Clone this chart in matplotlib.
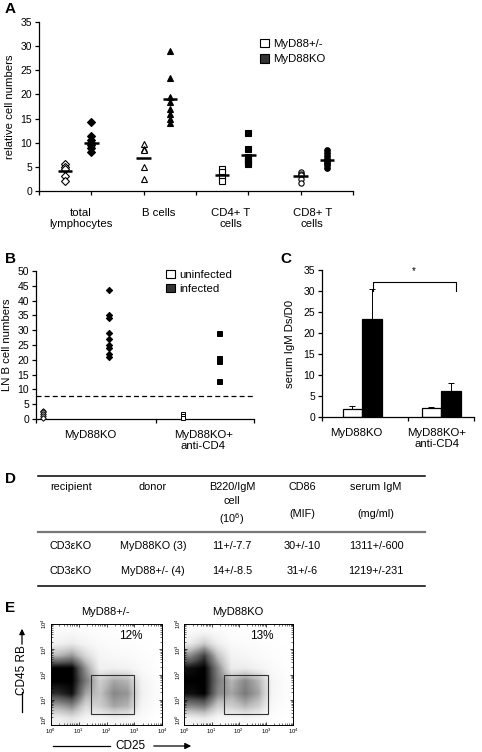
import numpy as np
import matplotlib
matplotlib.use('Agg')
import matplotlib.pyplot as plt
from matplotlib.patches import Rectangle, Patch

plt.rcParams['font.family'] = ['Liberation Sans', 'DejaVu Sans']
plt.rcParams['mathtext.fontset'] = 'custom'
plt.rcParams['mathtext.rm'] = 'Liberation Sans'

# ---------------- data ----------------
# Panel A
a_cat_labels = ['total\nlymphocytes', 'B cells', 'CD4+ T\ncells', 'CD8+ T\ncells']
a_total_het = [5.5, 5.0, 4.6, 3.2, 2.0]
a_total_ko = [14.3, 11.3, 10.6, 10.0, 9.5, 9.0, 8.0]
a_b_het = [9.7, 8.8, 8.4, 5.0, 2.5]
a_b_ko = [29.0, 23.5, 19.5, 18.5, 17.0, 16.0, 15.0, 14.0]
a_cd4_het = [4.6, 4.0, 3.0, 2.0]
a_cd4_ko = [12.1, 8.6, 7.0, 6.5, 6.0, 5.6]
a_cd8_het = [4.0, 3.6, 3.3, 2.5, 1.6]
a_cd8_ko = [8.4, 7.8, 7.2, 6.6, 6.2, 5.8, 5.3, 4.8]
a_means_het = [4.2, 6.9, 3.4, 3.2]
a_means_ko = [9.9, 19.0, 7.5, 6.5]
a_legend = ['MyD88+/-', 'MyD88KO']

# Panel B
b_groups = ['MyD88KO', 'MyD88KO+\nanti-CD4']
b_ko_uninf = [2.8, 2.2, 1.6, 1.0, 0.5]
b_ko_inf = [43.5, 35.0, 34.0, 29.0, 27.0, 25.0, 24.0, 22.0, 21.0]
b_cd4_uninf = [1.6, 1.0, 0.5]
b_cd4_inf = [29.0, 20.5, 19.5, 13.0]
b_threshold = 7.9
b_legend = ['uninfected', 'infected']

# Panel C
c_groups = ['MyD88KO', 'MyD88KO+\nanti-CD4']
c_uninf = [2.0, 2.2]
c_inf = [23.3, 6.1]
c_uninf_err = [0.6, 0.3]
c_inf_err = [7.1, 2.0]

# Panel D
d_header = ['recipient', 'donor', 'B220/IgM\ncell\n(10$^{6}$)', 'CD86\n\n(MIF)', 'serum IgM\n\n(mg/ml)']
d_row1 = ['CD3\u03b5KO', 'MyD88KO (3)', '11+/-7.7', '30+/-10', '1311+/-600']
d_row2 = ['CD3\u03b5KO', 'MyD88+/- (4)', '14+/-8.5', '31+/-6', '1219+/-231']

# Panel E  (estimated event density per half-decade cell, rows from low to high CD45RB)
e_titles = ['MyD88+/-', 'MyD88KO']
e_percent = ['12%', '13%']
e_density_het = [
    [0.12, 0.18, 0.08, 0.06, 0.10, 0.08, 0.03, 0.00],
    [0.45, 0.55, 0.25, 0.30, 0.45, 0.40, 0.08, 0.02],
    [0.85, 0.95, 0.45, 0.35, 0.55, 0.50, 0.12, 0.03],
    [1.00, 1.00, 0.60, 0.30, 0.45, 0.40, 0.10, 0.02],
    [1.00, 1.00, 0.50, 0.12, 0.12, 0.10, 0.04, 0.01],
    [0.40, 0.50, 0.25, 0.08, 0.05, 0.04, 0.02, 0.01],
    [0.10, 0.15, 0.08, 0.04, 0.02, 0.02, 0.01, 0.00],
    [0.03, 0.04, 0.02, 0.01, 0.01, 0.00, 0.00, 0.00],
]
e_density_ko = [
    [0.10, 0.15, 0.06, 0.05, 0.06, 0.04, 0.01, 0.00],
    [0.55, 0.60, 0.30, 0.30, 0.40, 0.30, 0.05, 0.01],
    [0.95, 1.00, 0.55, 0.45, 0.60, 0.45, 0.08, 0.02],
    [1.00, 1.00, 0.60, 0.40, 0.55, 0.40, 0.08, 0.02],
    [0.95, 1.00, 0.55, 0.15, 0.15, 0.10, 0.04, 0.01],
    [0.55, 0.80, 0.35, 0.10, 0.07, 0.04, 0.02, 0.01],
    [0.15, 0.30, 0.12, 0.04, 0.03, 0.02, 0.01, 0.00],
    [0.03, 0.05, 0.03, 0.01, 0.01, 0.01, 0.00, 0.00],
]
e_gate_het = [1.44, 3.00, 0.45, 1.97]   # log10 CD25 lo/hi, log10 CD45RB lo/hi
e_gate_ko = [1.47, 3.06, 0.45, 1.97]

# ---------------- figure ----------------
W, H = 482, 752
fig = plt.figure(figsize=(W / 100, H / 100), dpi=100)


def add_ax(l, t, r, b, **kw):
    return fig.add_axes([l / W, 1 - b / H, (r - l) / W, (b - t) / H], **kw)


# overlay for letters / arrows / table (pixel coords)
ov = add_ax(0, 0, W, H)
ov.set_xlim(0, W)
ov.set_ylim(H, 0)
ov.axis('off')
for letter, (x, y) in zip('ABCDE', [(5, 9), (5, 259), (280, 259), (5, 479), (5, 608)]):
    ov.text(x, y, letter, fontsize=11, fontweight='bold', va='center', ha='left')

TICK = 7.5
LAB = 8.2


def style_axes(ax):
    for s in ['top', 'right']:
        ax.spines[s].set_visible(False)
    for s in ['left', 'bottom']:
        ax.spines[s].set_linewidth(0.9)
    ax.tick_params(axis='both', which='major', direction='out', length=3, width=0.9,
                   labelsize=TICK, pad=2)


# ---------------- Panel A ----------------
axA = add_ax(39, 22, 353, 191)
style_axes(axA)
axA.set_xlim(0, 6)
axA.set_ylim(0, 35)
axA.set_yticks(np.arange(0, 36, 5))
axA.set_xticks(np.arange(0, 7, 1))
axA.set_xticklabels([])
axA.set_xticks([0.80, 2.29, 3.67, 5.22], minor=True)
axA.set_xticklabels(a_cat_labels, minor=True, fontsize=LAB, linespacing=1.15)
axA.tick_params(axis='x', which='minor', length=0, pad=12)
axA.set_ylabel('relative cell numbers', fontsize=LAB, labelpad=4)

a_series = [
    (0.5, a_total_het, 'D', 'white', 3.6), (1.0, a_total_ko, 'D', 'black', 3.8),
    (2.0, a_b_het, '^', 'white', 4.2), (2.5, a_b_ko, '^', 'black', 4.4),
    (3.5, a_cd4_het, 's', 'white', 3.8), (4.0, a_cd4_ko, 's', 'black', 4.0),
    (5.0, a_cd8_het, 'o', 'white', 3.8), (5.5, a_cd8_ko, 'o', 'black', 4.0),
]
for x, vals, m, fc, ms in a_series:
    axA.plot(np.full(len(vals), x), vals, linestyle='none', marker=m, ms=ms,
             mfc=fc, mec='black', mew=0.8, zorder=3, clip_on=False)
a_mean_x = [0.5, 1.0, 2.0, 2.5, 3.5, 4.0, 5.0, 5.5]
a_means = [a_means_het[0], a_means_ko[0], a_means_het[1], a_means_ko[1],
           a_means_het[2], a_means_ko[2], a_means_het[3], a_means_ko[3]]
axA.hlines(a_means, np.array(a_mean_x) - 0.14, np.array(a_mean_x) + 0.14,
           colors='black', linewidth=1.8, zorder=4)
axA.legend(handles=[Patch(facecolor='white', edgecolor='black', linewidth=0.8),
                    Patch(facecolor='#333333', edgecolor='black', linewidth=0.8)],
           labels=a_legend, loc='upper left', bbox_to_anchor=(260 / W, 1 - 39 / H),
           bbox_transform=fig.transFigure, frameon=False, fontsize=LAB,
           handlelength=0.75, handleheight=0.75, handletextpad=0.4,
           labelspacing=0.45, borderpad=0, borderaxespad=0)

# ---------------- Panel B ----------------
axB = add_ax(36, 271, 254, 419)
style_axes(axB)
axB.set_xlim(0, 6)
axB.set_ylim(0, 50)
axB.set_yticks(np.arange(0, 51, 5))
axB.set_xticks([0, 3.3, 6])
axB.set_xticklabels([])
axB.set_xticks([1.49, 4.6], minor=True)
axB.set_xticklabels(b_groups, minor=True, fontsize=LAB, linespacing=1.15)
axB.tick_params(axis='x', which='minor', length=0, pad=8)
axB.set_ylabel('LN B cell numbers', fontsize=LAB, labelpad=4)
axB.axhline(b_threshold, color='black', linestyle=(0, (4, 2.5)), linewidth=0.9)
b_series = [
    (0.2, b_ko_uninf, 'D', 'white', 2.8), (2.0, b_ko_inf, 'D', 'black', 3.2),
    (4.05, b_cd4_uninf, 's', 'white', 3.0), (5.05, b_cd4_inf, 's', 'black', 3.6),
]
for x, vals, m, fc, ms in b_series:
    axB.plot(np.full(len(vals), x), vals, linestyle='none', marker=m, ms=ms,
             mfc=fc, mec='black', mew=0.7, zorder=3, clip_on=False)
axB.legend(handles=[Patch(facecolor='white', edgecolor='black', linewidth=0.8),
                    Patch(facecolor='#333333', edgecolor='black', linewidth=0.8)],
           labels=b_legend, loc='upper left', bbox_to_anchor=(166 / W, 1 - 270 / H),
           bbox_transform=fig.transFigure, frameon=False, fontsize=LAB,
           handlelength=0.75, handleheight=0.75, handletextpad=0.4,
           labelspacing=0.35, borderpad=0, borderaxespad=0)

# ---------------- Panel C ----------------
axC = add_ax(322, 270, 474, 417)
style_axes(axC)
axC.set_xlim(0, 2)
axC.set_ylim(0, 35)
axC.set_yticks(np.arange(0, 36, 5))
axC.set_xticks([0, 1.13, 2])
axC.set_xticklabels([])
axC.set_xticks([0.45, 1.51], minor=True)
axC.set_xticklabels(c_groups, minor=True, fontsize=LAB, linespacing=1.15)
axC.tick_params(axis='x', which='minor', length=0, pad=8)
axC.set_ylabel('serum IgM Ds/D0', fontsize=LAB, labelpad=6)
c_centers = np.array([0.53, 1.57])
bw = 0.26
axC.bar(c_centers - bw / 2, c_uninf, bw, color='white', edgecolor='black', linewidth=0.9,
        yerr=[np.zeros(2), c_uninf_err], error_kw=dict(capsize=2, elinewidth=0.7, capthick=0.7))
axC.bar(c_centers + bw / 2, c_inf, bw, color='black', edgecolor='black', linewidth=0.9,
        yerr=[np.zeros(2), c_inf_err], error_kw=dict(capsize=2, elinewidth=0.7, capthick=0.7))
# significance bracket
yb = 32.2
axC.plot([0.67, 0.67, 1.76, 1.76], [yb - 2.3, yb, yb, yb - 2.3], color='black',
         linewidth=0.8, clip_on=False)
axC.text(1.21, yb + 1.3, '*', ha='center', va='bottom', fontsize=7)

# ---------------- Panel D (table) ----------------
col_x = [71, 153, 232, 302, 376]
ov.plot([38, 425], [475.5, 475.5], color='black', linewidth=1.1)
ov.plot([38, 425], [532, 532], color='#777777', linewidth=1.6)
ov.plot([38, 425], [586, 586], color='black', linewidth=1.1)
for x, t in zip(col_x, d_header):
    ov.text(x, 482, t, ha='center', va='top', fontsize=7.8, linespacing=1.45)
for x, t in zip(col_x, d_row1):
    ov.text(x, 546, t, ha='center', va='center', fontsize=7.8)
for x, t in zip(col_x, d_row2):
    ov.text(x, 571, t, ha='center', va='center', fontsize=7.8)

# ---------------- Panel E ----------------
e_boxes = [(50.7, 624, 162.3, 725), (184.3, 624, 293.3, 725)]
e_dens = [e_density_het, e_density_ko]
e_gates = [e_gate_het, e_gate_ko]
e_title_x = [105, 238]
for i in range(2):
    ax = add_ax(*e_boxes[i])
    ax.imshow(np.array(e_dens[i]), extent=(0, 4, 0, 4), origin='lower', cmap='Greys',
              vmin=0, vmax=1.0, interpolation='bilinear', aspect='auto')
    ax.set_xlim(0, 4)
    ax.set_ylim(0, 4)
    for s in ax.spines.values():
        s.set_linewidth(0.7)
    ticks = np.arange(0, 5)
    ax.set_xticks(ticks)
    ax.set_yticks(ticks)
    ax.set_xticklabels(['$10^{%d}$' % k for k in ticks], fontsize=4.2)
    ylabs = ax.set_yticklabels(['$10^{%d}$' % k for k in ticks], fontsize=4.2,
                               rotation=90, va='center')
    ylabs[0].set_va('bottom')
    minors = [k + np.log10(m) for k in range(4) for m in range(2, 10)]
    ax.set_xticks(minors, minor=True)
    ax.set_yticks(minors, minor=True)
    ax.tick_params(which='major', length=2.5, width=0.5, pad=1, top=True, right=True,
                   direction='in')
    ax.tick_params(which='minor', length=1.3, width=0.4, top=True, right=True, direction='in')
    g = e_gates[i]
    ax.add_patch(Rectangle((g[0], g[2]), g[1] - g[0], g[3] - g[2], fill=False,
                           edgecolor='#333333', linewidth=0.8))
    ax.text(0.82, 0.88, e_percent[i], transform=ax.transAxes, ha='right', va='center',
            fontsize=8.5)
    ov.text(e_title_x[i], 612, e_titles[i], ha='center', va='center', fontsize=8)

# axis captions with arrows
ov.text(22, 670, 'CD45 RB', rotation=90, ha='center', va='center', fontsize=8.5)
ov.plot([22, 22], [692, 712], color='black', linewidth=0.9)
ov.annotate('', xy=(22, 626), xytext=(22, 647),
            arrowprops=dict(arrowstyle='-|>', color='black', lw=0.9, mutation_scale=8))
ov.text(130, 746, 'CD25', ha='center', va='center', fontsize=8.5)
ov.plot([53, 110], [746, 746], color='black', linewidth=0.9)
ov.annotate('', xy=(194, 746), xytext=(151, 746),
            arrowprops=dict(arrowstyle='-|>', color='black', lw=0.9, mutation_scale=9))

fig.savefig('out.png', dpi=100)
